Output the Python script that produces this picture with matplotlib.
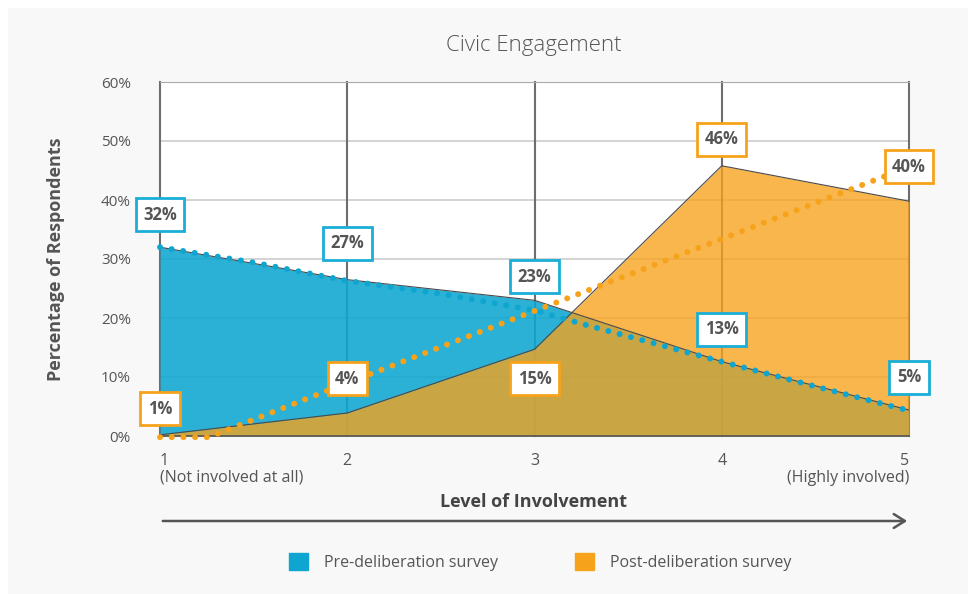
import matplotlib.pyplot as plt
from matplotlib.patches import Patch, Rectangle, FancyArrowPatch

levels = [1, 2, 3, 4, 5]
pre = [32, 26.5, 23, 12.6, 4.4]
post = [0.2, 3.9, 14.7, 45.8, 39.8]

pre_labels = ["32%", "27%", "23%", "13%", "5%"]
post_labels = ["1%", "4%", "15%", "46%", "40%"]
pre_label_y = [37.5, 32.7, 27.0, 18.1, 10.0]
post_label_y = [4.6, 9.7, 9.7, 50.3, 45.6]

# trend lines
pre_trend_x = [1, 1.5, 2, 2.5, 3, 3.3, 4, 4.5, 5]
pre_trend_y = [32, 29.4, 26.3, 24.1, 21.3, 18.6, 12.6, 8.4, 4.3]
post_trend_x = [1, 1.26, 2, 3, 4, 5]
post_trend_y = [-0.2, -0.2, 9.0, 21.2, 33.4, 45.6]

tick_labels = ["1\n(Not involved at all)", "2", "3", "4", "5\n(Highly involved)"]

BLUE = "#0ea6d1"
ORANGE = "#f7a21b"
TXT = "#555555"

plt.rcParams['font.family'] = ['Open Sans', 'DejaVu Sans']

fig = plt.figure(figsize=(9.68, 5.94), dpi=100)
fig.patch.set_facecolor("white")
fig.patches.append(Rectangle((8 / 968, 0), 1, 1 - 8 / 594, transform=fig.transFigure,
                             facecolor="#f8f8f8", edgecolor="none", zorder=-10))
ax = fig.add_axes([160 / 968, 1 - 436 / 594, 749 / 968, 354 / 594])
ax.set_facecolor("white")

ax.set_xlim(1, 5)
ax.set_ylim(0, 60)

# grid
for y in range(10, 61, 10):
    ax.axhline(y, color="#cccccc", lw=1.2, zorder=0)
for x in levels:
    ax.axvline(x, color="#6e6e6e", lw=1.5, zorder=0, clip_on=False)

ax.fill_between(levels, pre, 0, color=BLUE, alpha=0.88, lw=0, zorder=1)
ax.fill_between(levels, post, 0, color=ORANGE, alpha=0.78, lw=0, zorder=2)
ax.plot(levels, pre, color="#4a4a4a", lw=0.8, zorder=3)
ax.plot(levels, post, color="#4a4a4a", lw=0.8, zorder=3)

ax.plot(pre_trend_x, pre_trend_y, color=BLUE, lw=4.3, linestyle=(0, (0.01, 1.95)),
        dash_capstyle="round", clip_on=False, zorder=4)
ax.plot(post_trend_x, post_trend_y, color=ORANGE, lw=4.3, linestyle=(0, (0.01, 1.95)),
        dash_capstyle="round", clip_on=False, zorder=4)

for x, y, t in zip(levels, pre_label_y, pre_labels):
    ax.text(x, y, t, ha="center", va="center", fontsize=12, fontweight="bold", color=TXT,
            zorder=6, clip_on=False,
            bbox=dict(boxstyle="square,pad=0.45", fc="white", ec="#1aaed6", lw=2))
for x, y, t in zip(levels, post_label_y, post_labels):
    ax.text(x, y, t, ha="center", va="center", fontsize=12, fontweight="bold", color=TXT,
            zorder=6, clip_on=False,
            bbox=dict(boxstyle="square,pad=0.45", fc="white", ec=ORANGE, lw=2))

for s in ["left", "right"]:
    ax.spines[s].set_visible(False)
ax.spines["top"].set_color("#aaaaaa")
ax.spines["bottom"].set_color("#555555")
ax.spines["bottom"].set_linewidth(1.2)

ax.set_yticks(range(0, 61, 10))
ax.set_yticklabels([f"{v}%" for v in range(0, 61, 10)], fontsize=11, color=TXT)
ax.set_xticks(levels)
ax.set_xticklabels(tick_labels, fontsize=11.5, color=TXT, linespacing=1.1)
xt = ax.get_xticklabels()
xt[0].set_ha("left")
xt[0].set_multialignment("left")
xt[-1].set_ha("right")
xt[-1].set_multialignment("right")
ax.tick_params(axis="y", length=0, pad=21)
ax.tick_params(axis="x", length=0, pad=12)

ax.set_ylabel("Percentage of Respondents", fontsize=13, fontweight="bold", color=TXT, labelpad=26)
fig.text(534 / 968, 1 - 46 / 594, "Civic Engagement", ha="center", va="center",
         fontsize=16, color=TXT, fontweight="light")
fig.text(534 / 968, 1 - 502 / 594, "Level of Involvement", ha="center", va="center",
         fontsize=13, fontweight="bold", color="#444444")
fig.add_artist(FancyArrowPatch(
    (160 / 968, 1 - 521 / 594), (910 / 968, 1 - 521 / 594), transform=fig.transFigure,
    arrowstyle="->,head_length=8,head_width=5", color="#555555", lw=1.8))

handles = [Patch(color=BLUE, label="Pre-deliberation survey"),
           Patch(color=ORANGE, label="Post-deliberation survey")]
fig.legend(handles=handles, loc="center", bbox_to_anchor=(540 / 968, 1 - 562 / 594), ncol=2,
           frameon=False, fontsize=11.5, handlelength=1.2, handleheight=1.2, columnspacing=4.8,
           handletextpad=1.0, labelcolor=TXT)

fig.savefig("out.png", dpi=100, facecolor=fig.get_facecolor())
